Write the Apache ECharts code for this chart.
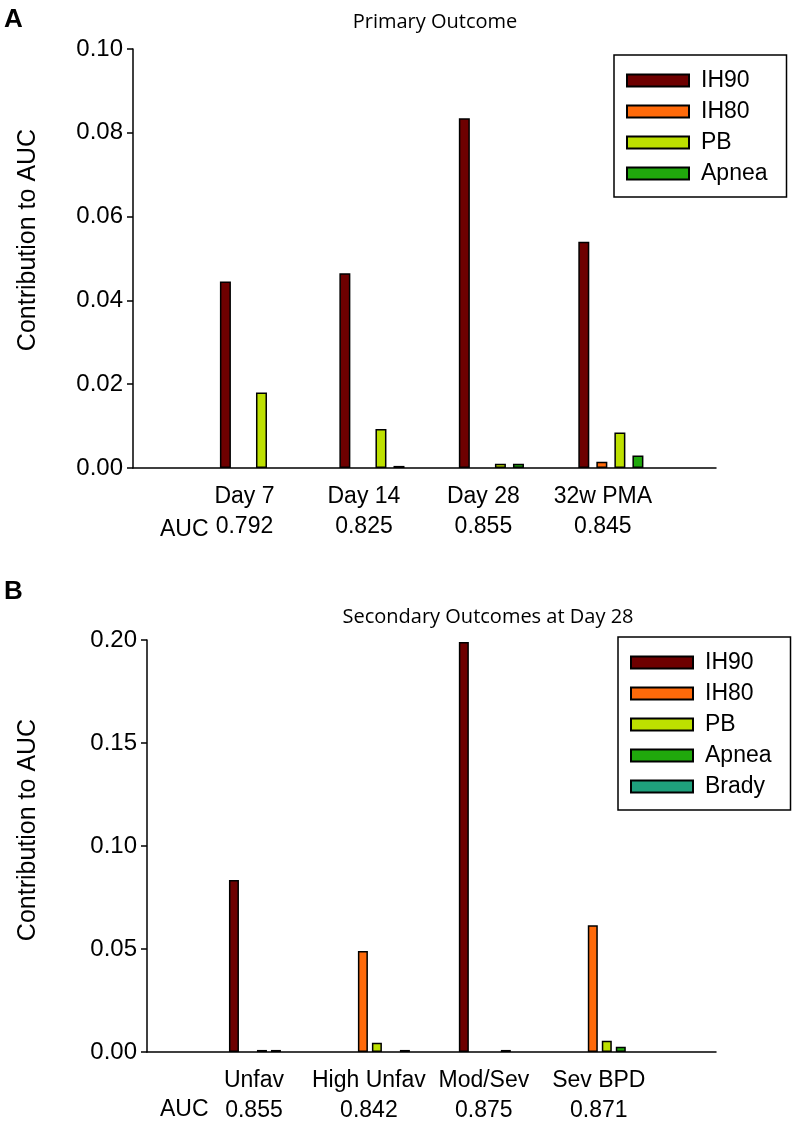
<!DOCTYPE html>
<html>
<head>
<meta charset="utf-8">
<script src="https://cdn.jsdelivr.net/npm/echarts@6/dist/echarts.min.js"></script>
<style>
  html, body { margin: 0; padding: 0; background: #fff; }
  #main { width: 798px; height: 1126px; }
</style>
</head>
<body>
<div id="main"></div>
<script>
// panel A - primary outcome
const groupsA = ['Day 7', 'Day 14', 'Day 28', '32w PMA'];
const aucA = ['0.792', '0.825', '0.855', '0.845'];
const ih90A = [0.0445, 0.0465, 0.0835, 0.054];
const ih80A = [0, 0, 0, 0.0015];
const pbA = [0.018, 0.0093, 0.001, 0.0085];
const apneaA = [0, 0.0005, 0.001, 0.003];
const ticksA = [0, 0.02, 0.04, 0.06, 0.08, 0.10];

// panel B - secondary outcomes at day 28
const groupsB = ['Unfav', 'High Unfav', 'Mod/Sev', 'Sev BPD'];
const aucB = ['0.855', '0.842', '0.875', '0.871'];
const ih90B = [0.0835, 0, 0.199, 0];
const ih80B = [0, 0.049, 0, 0.0615];
const pbB = [0.001, 0.0045, 0, 0.0055];
const apneaB = [0.001, 0, 0.001, 0.0025];
const bradyB = [0, 0.001, 0, 0];
const ticksB = [0, 0.05, 0.10, 0.15, 0.20];

const colors = {
    IH90: '#6e0000',
    IH80: '#ff6a0a',
    PB: '#bde000',
    Apnea: '#20a80c',
    Brady: '#1fa07c'
};

const FONT = 'Liberation Sans';
const FS = 23;

let dom = document.getElementById('main');
let chart = echarts.init(dom, null, {renderer: 'canvas'});

// groups sit at x = 1..4 on a plain value axis, zero bars are left out
function points(list){
    let out = [];
    list.forEach((v, i) => { if (v !== 0) out.push([i + 1, v]); });
    return out;
}

function xAxisFor(idx, groups, auc, max){
    return {
        type: 'value',
        gridIndex: idx,
        min: 0,
        max: max,
        interval: 1,
        splitLine: {show: false},
        axisTick: {show: false},
        axisLine: {lineStyle: {color: '#000', width: 1.5}},
        axisLabel: {
            showMaxLabel: false,
            margin: 14,
            color: '#000',
            fontFamily: FONT,
            fontSize: FS,
            lineHeight: 30,
            padding: [0, 16, 0, 0],
            formatter(v){
                let i = Math.round(v) - 1;
                if (i < 0 || i >= groups.length) return '';
                return groups[i] + '\n' + auc[i];
            }
        }
    };
}

function yAxisFor(idx, ticks){
    return {
        type: 'value',
        gridIndex: idx,
        min: ticks[0],
        max: ticks[ticks.length - 1],
        interval: ticks[1] - ticks[0],
        splitLine: {show: false},
        axisLine: {show: true, lineStyle: {color: '#000', width: 1.5}},
        axisTick: {show: true, length: 6, lineStyle: {color: '#000', width: 1.5}},
        axisLabel: {
            color: '#000',
            fontFamily: FONT,
            fontSize: 24,
            margin: 10,
            formatter: v => v.toFixed(2)
        }
    };
}

function barSeries(name, data, idx, width, gap){
    return {
        name: name,
        type: 'bar',
        xAxisIndex: idx,
        yAxisIndex: idx,
        data: points(data),
        barWidth: width,
        barGap: gap,
        itemStyle: {color: colors[name], borderColor: '#000', borderWidth: 1.5},
        emphasis: {disabled: true}
    };
}

function legendFor(names, left, top){
    return {
        data: names,
        orient: 'vertical',
        left: left,
        top: top,
        selectedMode: false,
        icon: 'rect',
        itemWidth: 62,
        itemHeight: 12,
        itemGap: 8,
        padding: [14, 19, 12, 12],
        borderColor: '#000',
        borderWidth: 1.5,
        textStyle: {color: '#000', fontFamily: FONT, fontSize: FS, padding: [0, 0, 0, 7]}
    };
}

function text(str, x, y, size, opts){
    return {
        type: 'text',
        x: x,
        y: y,
        style: Object.assign({
            text: str,
            fill: '#000',
            fontFamily: FONT,
            fontSize: size,
            textAlign: 'left',
            textVerticalAlign: 'middle'
        }, opts || {})
    };
}

function yTitle(x, y){
    let t = text('Contribution to AUC', 0, 0, 25, {textAlign: 'center'});
    t.x = x;
    t.y = y;
    t.rotation = Math.PI / 2;
    return t;
}

let options = {
    animation: false,
    grid: [
        {left: 133, top: 49, width: 583, height: 419},
        {left: 147, top: 640, width: 569, height: 412}
    ],
    xAxis: [xAxisFor(0, groupsA, aucA, 4.88), xAxisFor(1, groupsB, aucB, 4.95)],
    yAxis: [yAxisFor(0, ticksA), yAxisFor(1, ticksB)],
    legend: [
        legendFor(['IH90', 'IH80', 'PB', 'Apnea'], 614, 55),
        legendFor(['IH90', 'IH80', 'PB', 'Apnea', 'Brady'], 618, 637)
    ],
    series: [
        barSeries('IH90', ih90A, 0, 11, '64%'),
        barSeries('IH80', ih80A, 0, 11, '64%'),
        barSeries('PB', pbA, 0, 11, '64%'),
        barSeries('Apnea', apneaA, 0, 11, '64%'),
        barSeries('IH90', ih90B, 1, 10, '40%'),
        barSeries('IH80', ih80B, 1, 10, '40%'),
        barSeries('PB', pbB, 1, 10, '40%'),
        barSeries('Apnea', apneaB, 1, 10, '40%'),
        barSeries('Brady', bradyB, 1, 10, '40%')
    ],
    graphic: [
        text('A', 4, 20, 26, {fontWeight: 'bold'}),
        text('B', 4, 592, 26, {fontWeight: 'bold'}),
        text('Primary Outcome', 435, 22, 20, {textAlign: 'center', fontFamily: 'Open Sans'}),
        text('Secondary Outcomes at Day 28', 488, 617, 20, {textAlign: 'center', fontFamily: 'Open Sans'}),
        text('AUC', 160, 530, FS),
        text('AUC', 160, 1110, FS),
        yTitle(28, 240),
        yTitle(28, 830)
    ]
};

chart.setOption(options);
</script>
</body>
</html>
